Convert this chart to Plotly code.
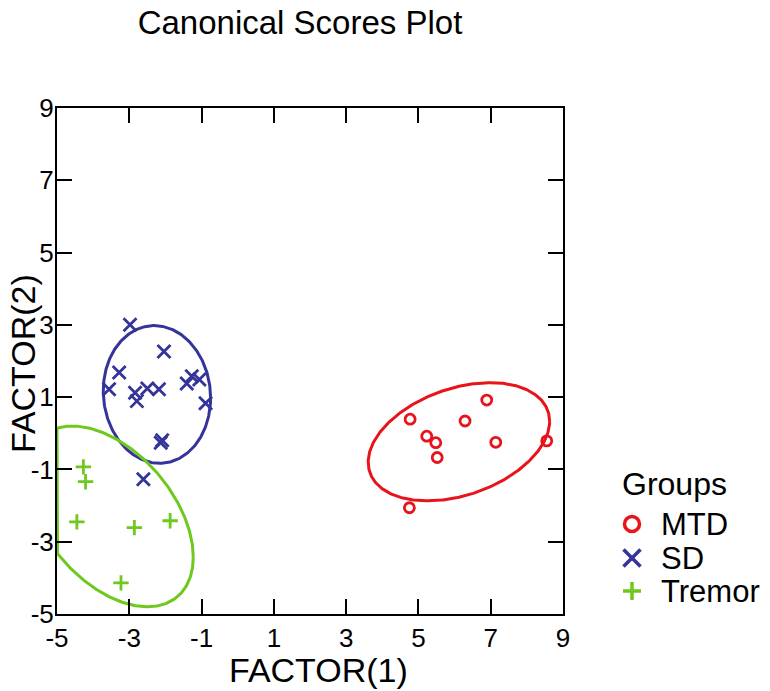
import numpy as np
import plotly.graph_objects as go

# ---- data ----
groups = ["MTD", "SD", "Tremor"]

mtd_x = [4.77, 5.23, 5.48, 5.52, 6.29, 6.89, 7.14, 8.55, 4.75]
mtd_y = [0.39, -0.08, -0.26, -0.67, 0.34, 0.92, -0.25, -0.21, -2.06]

sd_x = [-2.98, -2.04, -3.28, -3.56, -2.84, -2.79, -2.50, -2.18, -1.41, -1.27, -1.06, -0.89, -2.13, -2.09, -2.61]
sd_y = [3.00, 2.26, 1.68, 1.22, 1.12, 0.89, 1.24, 1.22, 1.38, 1.58, 1.49, 0.83, -0.26, -0.19, -1.27]

tremor_x = [-4.27, -4.21, -4.45, -2.86, -1.87, -3.23]
tremor_y = [-0.93, -1.34, -2.45, -2.61, -2.42, -4.14]

# ellipse parameters: centre x, centre y, half-width, half-height, correlation
ell_mtd = [6.12, -0.235, 2.51, 1.635, 0.346]
ell_sd = [-2.235, 1.075, 1.485, 1.905, -0.05]
ell_tremor = [-3.535, -2.30, 2.305, 2.50, -0.45]

x_ticks = [-5, -3, -1, 1, 3, 5, 7, 9]
y_ticks = [-5, -3, -1, 1, 3, 5, 7, 9]
x_range = [-5, 9]
y_range = [-5, 9]

colors = {"MTD": "#E8141B", "SD": "#34349A", "Tremor": "#6FC81E"}
symbols = {"MTD": "circle-open", "SD": "x-thin-open", "Tremor": "cross-thin-open"}
msize = {"MTD": 10, "SD": 13, "Tremor": 11}

FONT = "Liberation Sans, Arial, sans-serif"

# ---- layout geometry (pixels) ----
W, H = 770, 691
L, R, T, B = 57, 207, 108, 77
PW = W - L - R
PH = H - T - B


def px2paper(px, py):
    return (px - L) / PW, (H - B - py) / PH


def ellipse(p, n=361):
    cx, cy, sx, sy, r = p
    t = np.linspace(0, 2 * np.pi, n)
    ex = cx + sx * np.cos(t)
    ey = cy + sy * (r * np.cos(t) + np.sqrt(1 - r * r) * np.sin(t))
    return ex, ey


fig = go.Figure()

data = {"MTD": (mtd_x, mtd_y, ell_mtd), "SD": (sd_x, sd_y, ell_sd), "Tremor": (tremor_x, tremor_y, ell_tremor)}

for g in groups:
    xs, ys, ep = data[g]
    ex, ey = ellipse(ep)
    ex = np.maximum(ex, x_range[0])
    fig.add_trace(go.Scatter(x=ex, y=ey, mode="lines", line=dict(color=colors[g], width=3),
                             showlegend=False, hoverinfo="skip"))

for g in groups:
    xs, ys, ep = data[g]
    fig.add_trace(go.Scatter(x=xs, y=ys, mode="markers", name=g, showlegend=False, cliponaxis=False,
                             marker=dict(symbol=symbols[g], size=msize[g], color=colors[g],
                                         line=dict(color=colors[g], width=2.8))))

axis_common = dict(showgrid=False, zeroline=False, showline=True, linecolor="black", linewidth=2,
                   ticks="inside", ticklen=15, tickwidth=2, tickcolor="black", mirror="ticks",
                   automargin=False, tickfont=dict(size=26, color="black", family=FONT))

shapes = []
annotations = []

# axis titles
ax, ay = px2paper(318, 670)
annotations.append(dict(text="FACTOR(1)", x=ax, y=ay, xref="paper", yref="paper", showarrow=False,
                        xanchor="center", yanchor="middle", font=dict(size=34, family=FONT, color="black")))
ax, ay = px2paper(23, 364)
annotations.append(dict(text="FACTOR(2)", x=ax, y=ay, xref="paper", yref="paper", showarrow=False,
                        textangle=-90, xanchor="center", yanchor="middle",
                        font=dict(size=34, family=FONT, color="black")))

# legend (drawn manually to match the original spacing)
lx, ly = px2paper(620, 484)
annotations.append(dict(text="Groups", x=lx, y=ly, xref="paper", yref="paper", showarrow=False,
                        xanchor="left", yanchor="middle", font=dict(size=32, family=FONT, color="black")))
rows = {"MTD": 524, "SD": 558, "Tremor": 591}
sym_x = 632
hs = 8.5
for g in groups:
    cy = rows[g]
    tx, ty = px2paper(659, cy)
    annotations.append(dict(text=g, x=tx, y=ty, xref="paper", yref="paper", showarrow=False,
                            xanchor="left", yanchor="middle", font=dict(size=31, family=FONT, color="black")))
    ln = dict(color=colors[g], width=3.5)
    if g == "MTD":
        x0, y0 = px2paper(sym_x - 7.5, cy + 7.5)
        x1, y1 = px2paper(sym_x + 7.5, cy - 7.5)
        shapes.append(dict(type="circle", xref="paper", yref="paper", x0=x0, y0=y0, x1=x1, y1=y1, line=ln))
    elif g == "SD":
        for a, b in [((-hs, -hs), (hs, hs)), ((-hs, hs), (hs, -hs))]:
            x0, y0 = px2paper(sym_x + a[0], cy + a[1])
            x1, y1 = px2paper(sym_x + b[0], cy + b[1])
            shapes.append(dict(type="line", xref="paper", yref="paper", x0=x0, y0=y0, x1=x1, y1=y1, line=ln))
    else:
        for a, b in [((-9, 0), (9, 0)), ((0, -9), (0, 9))]:
            x0, y0 = px2paper(sym_x + a[0], cy + a[1])
            x1, y1 = px2paper(sym_x + b[0], cy + b[1])
            shapes.append(dict(type="line", xref="paper", yref="paper", x0=x0, y0=y0, x1=x1, y1=y1, line=ln))

fig.update_layout(
    width=W, height=H,
    margin=dict(l=L, r=R, t=T, b=B),
    paper_bgcolor="white", plot_bgcolor="white",
    font=dict(family=FONT, color="black"),
    showlegend=False,
    title=dict(text="Canonical Scores Plot", x=(300 - L) / PW, xref="paper", xanchor="center",
               y=1 - 22 / H, yanchor="middle", font=dict(size=33, color="black", family=FONT)),
    xaxis=dict(range=x_range, tickvals=x_ticks, ticktext=[str(v) for v in x_ticks], **axis_common),
    yaxis=dict(range=y_range, tickvals=y_ticks, ticktext=[str(v) for v in y_ticks],
               ticklabelstandoff=-4, **axis_common),
    shapes=shapes,
    annotations=annotations,
)

fig.write_html("out.html", config={"displayModeBar": False},
               post_script="document.body.style.margin='0px';")
